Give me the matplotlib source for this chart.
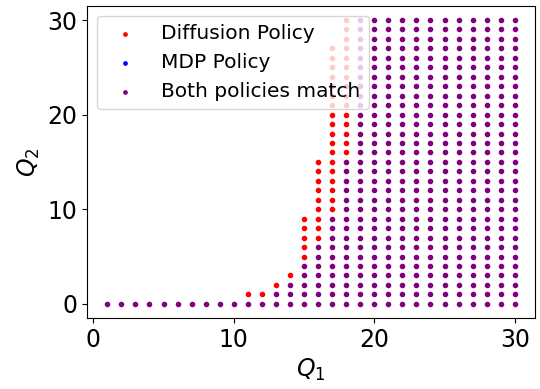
import matplotlib
matplotlib.use('Agg')
import matplotlib.pyplot as plt

# queue length Q1 for each column of states
q1_values = [1, 2, 3, 4, 5, 6, 7, 8, 9, 10,
             11, 12, 13, 14, 15, 16, 17, 18, 19, 20,
             21, 22, 23, 24, 25, 26, 27, 28, 29, 30]
# highest Q2 visited in each column
q2_top = [0, 0, 0, 0, 0, 0, 0, 0, 0, 0,
          1, 1, 2, 3, 9, 15, 27, 30, 30, 30,
          30, 30, 30, 30, 30, 30, 30, 30, 30, 30]
# highest Q2 where both policies agree (above it only diffusion acts)
q2_match_top = [0, 0, 0, 0, 0, 0, 0, 0, 0, 0,
                0, 0, 1, 2, 4, 6, 9, 15, 30, 30,
                30, 30, 30, 30, 30, 30, 30, 30, 30, 30]

diff_x, diff_y = [], []
mdp_x, mdp_y = [], []
both_x, both_y = [], []
for q1, top, mtop in zip(q1_values, q2_top, q2_match_top):
    for q2 in range(0, top + 1):
        if q2 <= mtop:
            both_x.append(q1)
            both_y.append(q2)
        else:
            diff_x.append(q1)
            diff_y.append(q2)

fig = plt.figure(figsize=(5.4, 3.89), dpi=100)
ax = fig.add_axes([0.161, 0.1825, 0.83, 0.8025])

ax.scatter(diff_x, diff_y, color='red', s=9, label='Diffusion Policy')
ax.scatter(mdp_x, mdp_y, color='blue', s=9, label='MDP Policy')
ax.scatter(both_x, both_y, color='purple', s=9, label='Both policies match')

ax.set_xlabel('$Q_1$', fontsize=17)
ax.set_ylabel('$Q_2$', fontsize=17)
ax.tick_params(labelsize=17)
ax.set_xticks([0, 10, 20, 30])
ax.set_yticks([0, 10, 20, 30])
ax.legend(loc='upper left', fontsize=14.5, markerscale=0.8)

plt.savefig('out.png', dpi=100)
